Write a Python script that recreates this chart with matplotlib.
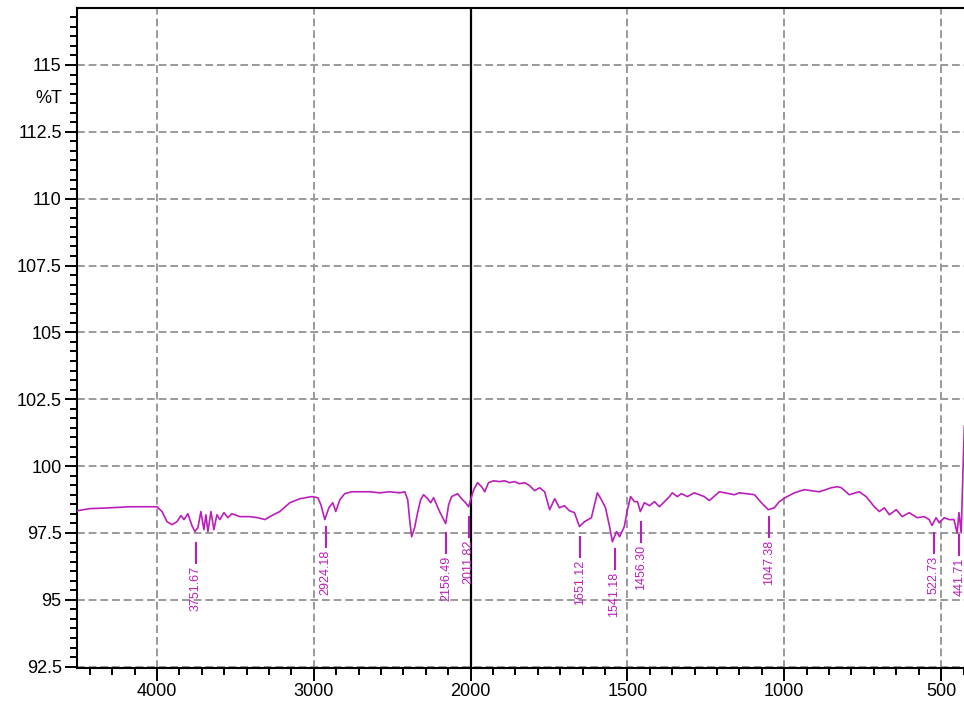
import numpy as np
import matplotlib
matplotlib.use("Agg")
import matplotlib.pyplot as plt
from matplotlib.ticker import FixedLocator, NullFormatter
import matplotlib.transforms as mtransforms

plt.rcParams['font.family'] = ['Liberation Sans', 'DejaVu Sans']

# ---- spectrum data (wavenumber cm-1, %T) ----
wavenumber = [4510, 4427, 4299, 4172, 4045, 4000, 3968, 3936, 3904, 3873, 3847, 3828, 3803,
              3777, 3758, 3739, 3720, 3701, 3688, 3675, 3656, 3637, 3618, 3599, 3573, 3548,
              3522, 3471, 3408, 3357, 3312, 3268, 3217, 3153, 3089, 3013, 2975, 2955, 2930,
              2904, 2879, 2860, 2834, 2803, 2758, 2707, 2643, 2580, 2516, 2452, 2420, 2401,
              2389, 2376, 2357, 2338, 2319, 2300, 2274, 2255, 2236, 2217, 2198, 2178, 2159,
              2140, 2121, 2083, 2058, 2032, 2013, 2000,
              1990, 1978, 1965, 1955, 1943, 1927, 1908, 1892, 1876, 1860, 1844, 1828, 1812,
              1796, 1780, 1764, 1748, 1732, 1717, 1701, 1685, 1669, 1653, 1637, 1615, 1596,
              1583, 1570, 1557, 1548, 1535, 1525, 1510, 1500, 1490, 1478, 1468, 1459, 1446,
              1430, 1414, 1398, 1382, 1366, 1357, 1341, 1328, 1309, 1287, 1255, 1239, 1207,
              1159, 1143, 1095, 1073, 1051, 1032, 1016, 997, 968, 936, 914, 888, 850, 831,
              818, 793, 761, 739, 713, 697, 681, 665, 643, 624, 602, 576, 554, 538, 529,
              516, 506, 490, 474, 459, 449, 443, 436, 430, 426]
transmittance = [98.33, 98.41, 98.44, 98.48, 98.48, 98.48, 98.30, 97.92, 97.81, 97.92, 98.15, 98.00, 98.22,
                 97.77, 97.55, 97.70, 98.30, 97.62, 98.18, 97.55, 98.30, 97.62, 98.18, 98.00, 98.26, 98.07,
                 98.22, 98.11, 98.11, 98.07, 98.00, 98.15, 98.30, 98.63, 98.78, 98.86, 98.82, 98.56, 98.00,
                 98.44, 98.63, 98.30, 98.74, 98.97, 99.04, 99.04, 99.04, 99.00, 99.04, 99.00, 99.04, 98.74,
                 98.00, 97.36, 97.70, 98.26, 98.74, 98.93, 98.78, 98.63, 98.82, 98.56, 98.30, 98.07, 97.85,
                 98.56, 98.86, 98.97, 98.78, 98.63, 98.48, 98.74,
                 99.12, 99.38, 99.23, 99.04, 99.38, 99.45, 99.42, 99.45, 99.38, 99.42, 99.34, 99.38, 99.27,
                 99.08, 99.19, 99.04, 98.37, 98.78, 98.44, 98.52, 98.33, 98.26, 97.74, 97.92, 98.07, 99.00,
                 98.74, 98.44, 97.74, 97.17, 97.55, 97.36, 97.74, 98.37, 98.86, 98.67, 98.67, 98.30, 98.63,
                 98.52, 98.67, 98.48, 98.67, 98.86, 99.00, 98.86, 98.97, 98.86, 99.00, 98.86, 98.71, 99.04,
                 98.93, 99.00, 98.93, 98.63, 98.37, 98.44, 98.67, 98.82, 99.00, 99.12, 99.08, 99.04, 99.19, 99.23,
                 99.19, 98.93, 99.04, 98.86, 98.48, 98.30, 98.44, 98.18, 98.37, 98.11, 98.26, 98.07, 98.11, 98.00, 97.78,
                 98.07, 97.88, 98.07, 98.00, 98.00, 97.50, 98.26, 97.50, 99.85, 101.5]

# ---- peak annotations ----
peak_labels = ["3751.67", "2924.18", "2156.49", "2011.82", "1651.12",
               "1541.18", "1456.30", "1047.38", "522.73", "441.71"]
peak_wn = [3751.67, 2924.18, 2156.49, 2011.82, 1651.12, 1541.18, 1456.30, 1047.38, 522.73, 441.71]
peak_mark_top = [97.14, 97.74, 97.51, 98.11, 97.36, 96.91, 97.92, 98.11, 97.51, 97.44]

x_major = [4000, 3000, 2000, 1500, 1000, 500]
y_major = [92.5, 95, 97.5, 100, 102.5, 105, 107.5, 110, 112.5, 115]
y_tick_labels = ["92.5", "95", "97.5", "100", "102.5", "105", "107.5", "110", "112.5", "115"]

TRACE = '#bb1fbb'

def fwd(x):
    x = np.asarray(x, dtype=float)
    return np.where(x >= 2000, x, 2 * x - 2000)

def inv(t):
    t = np.asarray(t, dtype=float)
    return np.where(t >= 2000, t, (t + 2000) / 2)

fig = plt.figure(figsize=(9.64, 7.06), dpi=100)
ax = fig.add_axes([77 / 964, 1 - 668 / 706, 1 - 77 / 964, (668 - 8) / 706])
ax.set_xscale('function', functions=(fwd, inv))
ax.set_xlim(4510, 427)
ax.set_ylim(92.45, 117.13)

# grid
grid_kw = dict(color='#9a9a9a', lw=1.4, ls=(0, (4, 2)), zorder=1)
for xv in x_major:
    if xv != 2000:
        ax.axvline(xv, **grid_kw)
for yv in y_major:
    ax.axhline(yv, **grid_kw)
ax.axvline(2000, color='black', lw=1.6, zorder=2)

ax.plot(wavenumber, transmittance, color=TRACE, lw=1.2, zorder=3, clip_on=True)

mark_len = 0.75
gap = 0.12
for lab, wn, top in zip(peak_labels, peak_wn, peak_mark_top):
    ax.plot([wn, wn], [top, top - mark_len], color=TRACE, lw=1.5, zorder=3)
    ax.text(wn, top - mark_len - gap, lab, rotation=90, ha='center', va='top',
            color=TRACE, fontsize=9, zorder=4)

# ticks
ax.xaxis.set_major_locator(FixedLocator(x_major))
ax.set_xticklabels([str(v) for v in x_major])
minor_x = list(np.arange(2000, 4600, 1000 / 7)) + list(np.arange(2000, 400, -500 / 7))
ax.xaxis.set_minor_locator(FixedLocator(minor_x))
ax.xaxis.set_minor_formatter(NullFormatter())

ax.yaxis.set_major_locator(FixedLocator(y_major))
ax.set_yticklabels(y_tick_labels)
ax.yaxis.set_minor_locator(FixedLocator(np.arange(92.5, 117.2, 2.5 / 7)))

ax.tick_params(axis='both', which='major', length=9, width=1.4, labelsize=13,
               direction='out', pad=2, colors='black')
ax.tick_params(axis='both', which='minor', length=5, width=1.4, direction='out')

for side in ['left', 'bottom', 'top']:
    ax.spines[side].set_linewidth(1.5)
    ax.spines[side].set_color('black')
ax.spines['right'].set_visible(False)

trans = mtransforms.blended_transform_factory(ax.transAxes, ax.transData)
ax.text(-0.0165, 113.73, '%T', transform=trans, ha='right', va='center', fontsize=13)

fig.savefig('out.png', dpi=100)
